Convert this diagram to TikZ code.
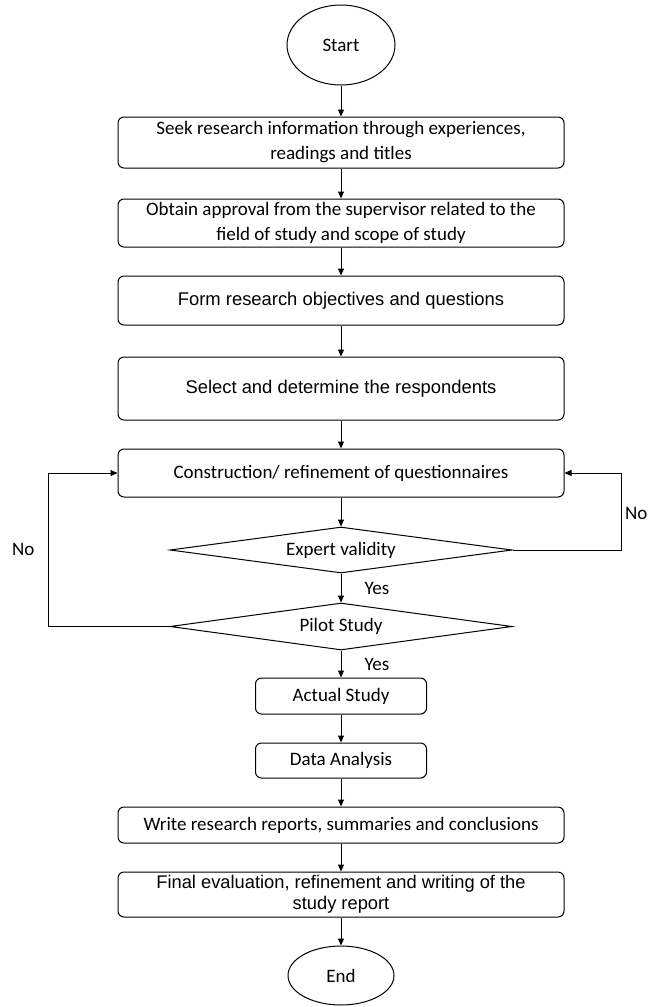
\documentclass[tikz,border=0pt]{standalone}
\usepackage{fontspec}
\setmainfont{Carlito}
\newfontfamily\arialfont{Liberation Sans}
\usetikzlibrary{shapes.geometric, arrows.meta, positioning}

\begin{document}
\begin{tikzpicture}[
  x=1pt, y=1pt,
  node distance=29pt,
  every node/.style={font=\fontsize{19}{25}\selectfont, text centered, inner sep=0pt},
  terminal/.style={ellipse, draw, line width=1pt, minimum width=108pt, minimum height=80pt},
  process/.style={rectangle, rounded corners=6pt, draw, line width=1pt, minimum width=446pt, align=center},
  shortbox/.style={process, minimum width=171pt, minimum height=36pt},
  decision/.style={diamond, draw, line width=1pt, aspect=7.4, minimum width=342pt, minimum height=46pt},
  arial/.style={font=\arialfont\fontsize{18.4}{22}\selectfont},
  arr/.style={-{Triangle[length=7pt,width=6pt]}, line width=1pt}
]
  \useasboundingbox (0,0) rectangle (648,-1007);

  \node[terminal] (start) at (341,-45) {Start};
  \node[process, minimum height=51pt, below=31pt of start] (seek) {Seek research information through experiences,\\ readings and titles};
  \node[process, minimum height=48pt, below=30pt of seek] (approval) {Obtain approval from the supervisor related to the\\ field of study and scope of study};
  \node[process, arial, minimum height=49pt, below=28pt of approval] (objectives) {Form research objectives and questions};
  \node[process, arial, minimum height=63pt, below=31pt of objectives] (respondents) {Select and determine the respondents};
  \node[process, minimum height=48pt, below=28pt of respondents] (construct) {Construction/ refinement of questionnaires};
  \node[decision, below=29pt of construct] (expert) {Expert validity};
  \node[decision, minimum height=47pt, below=29pt of expert] (pilot) {Pilot Study};
  \node[shortbox, below=27pt of pilot] (actual) {Actual Study};
  \node[shortbox, minimum height=35pt, below=28pt of actual] (analysis) {Data Analysis};
  \node[process, minimum height=36pt, below=28pt of analysis] (write) {Write research reports, summaries and conclusions};
  \node[process, font=\arialfont\fontsize{18.3}{21}\selectfont, minimum height=45pt, below=28pt of write] (final) {Final evaluation, refinement and writing of the\\ study report};
  \node[terminal, minimum width=106pt, minimum height=59pt, below=28pt of final] (end) {End};

  % main flow
  \draw[arr] (start) -- (seek);
  \draw[arr] (seek) -- (approval);
  \draw[arr] (approval) -- (objectives);
  \draw[arr] (objectives) -- (respondents);
  \draw[arr] (respondents) -- (construct);
  \draw[arr] (construct) -- (expert);
  \draw[arr] (expert) -- node[right=23pt] {Yes} (pilot);
  \draw[arr] (pilot) -- node[right=23pt] {Yes} (actual);
  \draw[arr] (actual) -- (analysis);
  \draw[arr] (analysis) -- (write);
  \draw[arr] (write) -- (final);
  \draw[arr] (final) -- (end);

  % loops back
  \draw[arr] (expert.east) -- ++(109,0) coordinate (rtop) |- (construct.east);
  \draw[arr] (pilot.west) -- ++(-121,0) coordinate (ltop) |- (construct.west);
  \node[anchor=west] (noright) at (625,-513) {No};
  \node[anchor=west] (noleft) at (12,-549) {No};
\end{tikzpicture}
\end{document}
